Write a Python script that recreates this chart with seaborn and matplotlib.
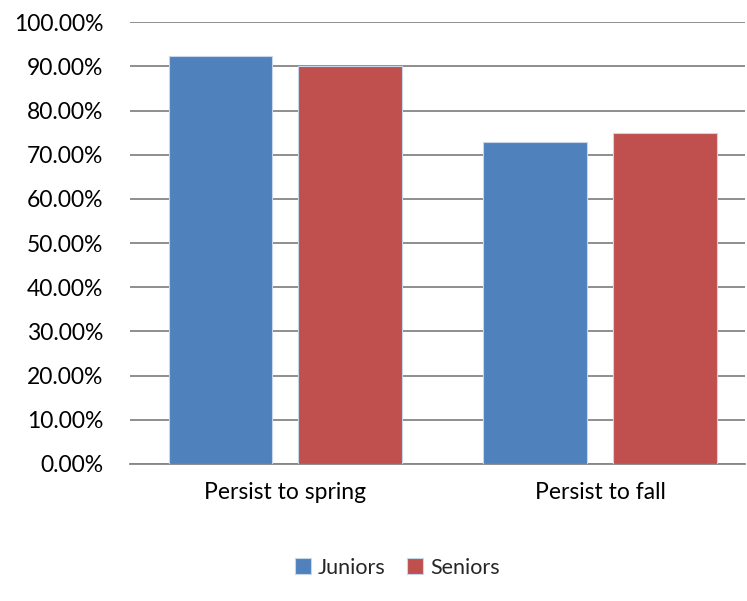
import pandas as pd
import numpy as np
import matplotlib
matplotlib.use("Agg")
import matplotlib.pyplot as plt
import seaborn as sns
from matplotlib.ticker import FuncFormatter

# data
categories = ["Persist to spring", "Persist to fall"]
groups = ["Juniors", "Seniors"]
juniors = [92.3, 72.9]
seniors = [90.0, 74.9]

df = pd.DataFrame({
    "Category": categories * 2,
    "Group": [groups[0]] * 2 + [groups[1]] * 2,
    "Value": juniors + seniors,
})

sns.set_style("white")
plt.rcParams["font.family"] = ["Lato", "DejaVu Sans"]

fig = plt.figure(figsize=(7.47, 6.01), dpi=100)
ax = fig.add_axes([0.174, 0.228, 0.823, 0.735])

sns.barplot(data=df, x="Category", y="Value", hue="Group",
            palette=["#4F81BD", "#C0504D"], saturation=1, width=0.825, gap=0.2,
            edgecolor="#c8d6ea", linewidth=0.8, ax=ax, zorder=3)

ax.set_xlim(-0.494, 1.459)
ax.set_ylim(0, 100)
ax.set_yticks(np.arange(0, 101, 10))
ax.yaxis.set_major_formatter(FuncFormatter(lambda v, p: f"{v:.2f}%"))
ax.grid(axis="y", color="#868686", linewidth=1.3, zorder=0)
ax.set_axisbelow(True)
for s in ["left", "right", "top"]:
    ax.spines[s].set_visible(False)
ax.spines["bottom"].set_color("#868686")
ax.spines["bottom"].set_linewidth(1.3)
ax.tick_params(axis="both", length=0, labelsize=16.5, colors="black")
ax.tick_params(axis="y", pad=19)
ax.tick_params(axis="x", pad=13)
ax.set_xlabel("")
ax.set_ylabel("")

leg = ax.legend(loc="center", bbox_to_anchor=(0.435, -0.235), ncol=2, frameon=False,
                fontsize=15.5, handlelength=0.75, handleheight=0.75,
                handletextpad=0.3, columnspacing=1.0)

fig.savefig("out.png", dpi=100)
